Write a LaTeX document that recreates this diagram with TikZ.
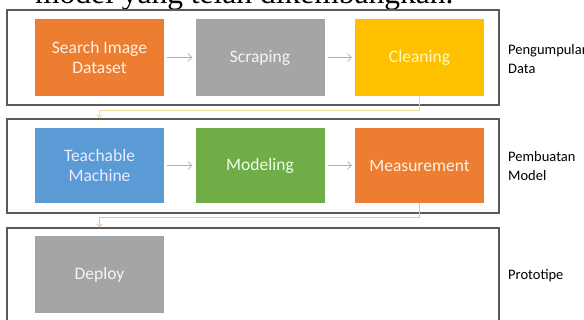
\documentclass[tikz,border=0pt]{standalone}
\usepackage{fontspec}
\setmainfont{Carlito}
\newfontfamily\capfont{Liberation Serif}
\usetikzlibrary{arrows.meta}
\definecolor{oorange}{HTML}{ED7D31}
\definecolor{ogray}{HTML}{A5A5A5}
\definecolor{oyellow}{HTML}{FFC000}
\definecolor{oblue}{HTML}{5B9BD5}
\definecolor{ogreen}{HTML}{70AD47}
\definecolor{frame}{HTML}{5A5A5A}
\definecolor{flowgray}{HTML}{B0B0B0}
\definecolor{connyellow}{HTML}{EFD89A}
\definecolor{connorange}{HTML}{F2BE96}
\begin{document}
\begin{tikzpicture}[x=1pt,y=-1pt,
  stage/.style={rectangle, inner sep=0pt, minimum width=129pt, minimum height=77pt,
    align=center, font=\fontsize{17.5}{20}\selectfont},
  group/.style={rectangle, draw=frame, line width=1.1pt, inner sep=0pt, minimum width=492pt},
  lab/.style={anchor=west, align=left, inner sep=0pt, text=black, font=\fontsize{14.5}{19.5}\selectfont},
  flow/.style={-{Straight Barb[length=4pt,width=8pt]}, draw=flowgray, line width=0.7pt,
    shorten <=3pt, shorten >=3pt},
  conn/.style={-{Straight Barb[length=3pt,width=6pt]}, line width=0.9pt}
]
\useasboundingbox (0,0) rectangle (584,320);

% caption fragment
\node[anchor=base west, inner sep=0pt, font=\capfont\fontsize{31.5}{32}\selectfont] (cap) at (35,4) {model yang telah dikembangkan.};

% groups
\node[group, minimum height=95pt] (g1) at (253,57.5) {};
\node[group, minimum height=94pt] (g2) at (253,166) {};
\node[group, minimum height=104pt] (g3) at (253,280) {};

% stages
\node[stage, fill=oorange, text=orange!10] (search) at (99.5,57.5) {Search Image\\Dataset};
\node[stage, fill=ogray, text=white!92!gray] (scrap) at (260,57.5) {Scraping};
\node[stage, fill=oyellow, text=yellow!25] (clean) at (419.5,57.5) {Cleaning};

\node[stage, fill=oblue, minimum height=75pt, text=blue!8] (teach) at (99.5,165.5) {Teachable\\Machine};
\node[stage, fill=ogreen, minimum height=75pt, text=green!8] (model) at (260,165.5) {Modeling};
\node[stage, fill=oorange, minimum height=75pt, text=orange!10] (meas) at (419.5,165.5) {Measurement};

\node[stage, fill=ogray, text=white!92!gray] (deploy) at (99.5,274.5) {Deploy};

% labels
\node[lab] (l1) at (508,59) {Pengumpulan\\Data};
\node[lab] (l2) at (508,166) {Pembuatan\\Model};
\node[lab] (l3) at (508,276) {Prototipe};

% flows
\draw[flow] (search) -- (scrap);
\draw[flow] (scrap) -- (clean);
\draw[flow] (teach) -- (model);
\draw[flow] (model) -- (meas);

% connectors between groups
\draw[conn, draw=connyellow] (clean.south) -- ++(0,14) -| (teach.north |- g2.north);
\draw[conn, draw=connorange] (meas.south) -- ++(0,14) -| (deploy.north |- g3.north);
\end{tikzpicture}
\end{document}
